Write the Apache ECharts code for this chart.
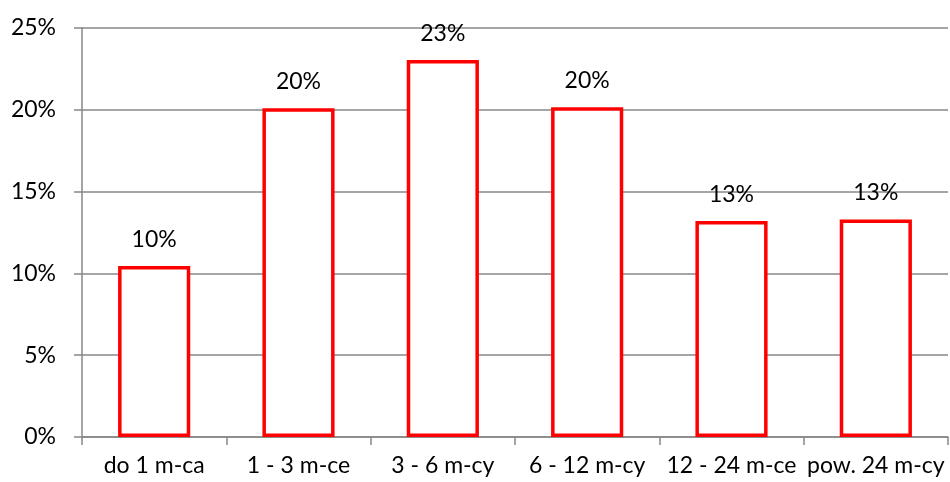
<!DOCTYPE html>
<html>
<head>
<meta charset="utf-8">
<script src="https://cdn.jsdelivr.net/npm/echarts@6/dist/echarts.min.js"></script>
<style>
html,body{margin:0;padding:0;background:#fff;}
#chart{width:950px;height:482px;}
</style>
</head>
<body>
<div id="chart"></div>
<script>
const categories = ['do 1 m-ca', '1 - 3 m-ce', '3 - 6 m-cy', '6 - 12 m-cy', '12 - 24 m-ce', 'pow. 24 m-cy'];
const values = [10.45, 20.1, 23.05, 20.15, 13.2, 13.3];
const yTicks = [0, 5, 10, 15, 20, 25];

const chart = echarts.init(document.getElementById('chart'));
const font = 'Lato, "Open Sans", sans-serif';
chart.setOption({
  animation: false,
  grid: { left: 82, right: 2, top: 28, bottom: 45 },
  xAxis: {
    type: 'category',
    data: categories,
    axisLine: { lineStyle: { color: '#878787', width: 1.5 } },
    axisTick: { show: true, alignWithLabel: false, length: 8, lineStyle: { color: '#878787', width: 1.5 } },
    axisLabel: { color: '#000', fontSize: 23, fontFamily: font, margin: 17, interval: 0 }
  },
  yAxis: {
    type: 'value',
    min: yTicks[0],
    max: yTicks[yTicks.length - 1],
    interval: 5,
    axisLine: { show: true, lineStyle: { color: '#878787', width: 1.5 } },
    axisTick: { show: true, length: 8, lineStyle: { color: '#878787', width: 1.5 } },
    splitLine: { lineStyle: { color: '#878787', width: 1.5 } },
    axisLabel: { color: '#000', fontSize: 23, fontFamily: font, margin: 26, formatter: v => v + '%' }
  },
  series: [{
    type: 'bar',
    data: values,
    barWidth: '50%',
    itemStyle: { color: '#fff', borderColor: '#ff0000', borderWidth: 3.5 },
    label: {
      show: true,
      position: 'top',
      distance: 15,
      color: '#000',
      fontSize: 23,
      fontFamily: font,
      formatter: p => Math.round(p.value) + '%'
    }
  }]
});
</script>
</body>
</html>
